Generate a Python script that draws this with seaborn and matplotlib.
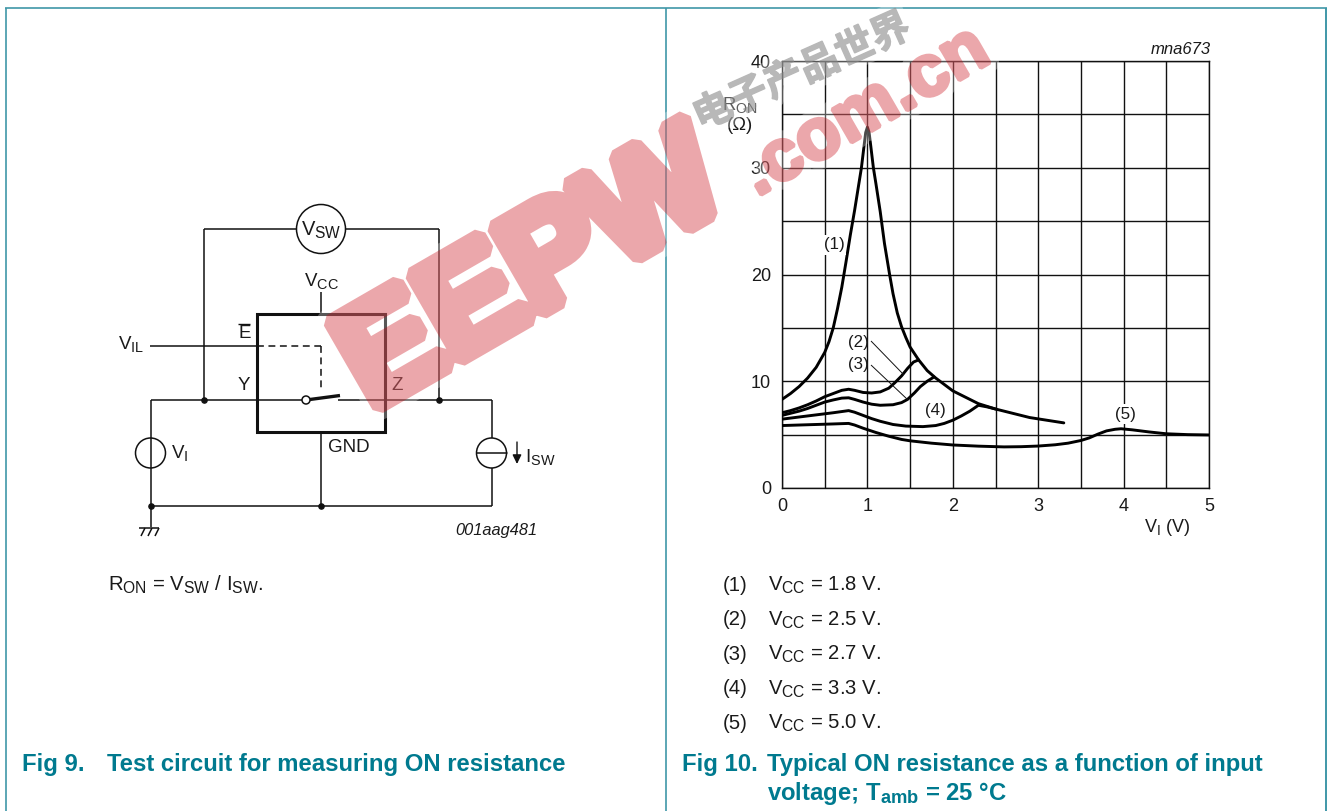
import pandas as pd
import matplotlib
matplotlib.use('Agg')
import matplotlib.pyplot as plt
import matplotlib.patheffects as pe
import matplotlib._mathtext as mathtext_core
import seaborn as sns

# Fig 10 curves
vi_1 = [0, 0.1, 0.2, 0.3, 0.4, 0.5, 0.55, 0.6, 0.65, 0.7, 0.75, 0.8, 0.85, 0.9, 0.93, 0.96, 0.98, 1.0, 1.02, 1.04, 1.07, 1.1, 1.15, 1.2, 1.26, 1.3, 1.35, 1.4, 1.45, 1.5, 1.55, 1.6, 1.7, 1.8, 1.9, 2.0, 2.1, 2.2, 2.3, 2.5, 2.7, 2.9, 3.1, 3.3]
ron_1 = [8.3, 8.85, 9.5, 10.3, 11.3, 12.7, 13.7, 15.0, 16.8, 18.8, 21.2, 23.7, 26.0, 28.5, 30.0, 32.0, 33.3, 33.8, 33.3, 32.0, 30.0, 28.5, 25.9, 22.9, 20.0, 18.2, 16.4, 15.1, 14.1, 13.2, 12.6, 12.0, 11.0, 10.3, 9.7, 9.1, 8.7, 8.3, 7.9, 7.4, 7.0, 6.6, 6.35, 6.1]
vi_2 = [0, 0.1, 0.2, 0.3, 0.4, 0.5, 0.6, 0.7, 0.78, 0.85, 0.95, 1.05, 1.15, 1.25, 1.32, 1.4, 1.47, 1.54, 1.6]
ron_2 = [7.05, 7.25, 7.5, 7.8, 8.15, 8.55, 8.85, 9.15, 9.25, 9.15, 8.95, 8.9, 9.0, 9.35, 9.85, 10.5, 11.2, 11.8, 12.0]
vi_3 = [0, 0.1, 0.2, 0.3, 0.4, 0.5, 0.6, 0.7, 0.78, 0.85, 0.95, 1.05, 1.15, 1.3, 1.4, 1.47, 1.55, 1.62, 1.7, 1.78]
ron_3 = [6.8, 7.0, 7.2, 7.45, 7.75, 8.05, 8.25, 8.42, 8.45, 8.3, 8.05, 7.85, 7.75, 7.8, 8.0, 8.3, 8.9, 9.5, 10.0, 10.4]
vi_4 = [0, 0.2, 0.4, 0.6, 0.78, 0.85, 0.95, 1.05, 1.15, 1.3, 1.45, 1.65, 1.8, 1.9, 2.0, 2.1, 2.2, 2.3, 2.4, 2.5]
ron_4 = [6.45, 6.65, 6.85, 7.05, 7.25, 7.1, 6.8, 6.5, 6.25, 5.95, 5.8, 5.75, 5.85, 6.05, 6.35, 6.75, 7.2, 7.75, 7.6, 7.4]
vi_5 = [0, 0.2, 0.4, 0.6, 0.78, 0.85, 0.95, 1.1, 1.25, 1.4, 1.5, 1.75, 2.0, 2.3, 2.6, 2.8, 3.0, 3.2, 3.35, 3.5, 3.6, 3.7, 3.8, 3.9, 3.97, 4.1, 4.3, 4.5, 4.75, 5.0]
ron_5 = [5.85, 5.9, 5.95, 6.0, 6.05, 5.9, 5.6, 5.2, 4.85, 4.55, 4.42, 4.2, 4.03, 3.92, 3.85, 3.87, 3.93, 4.05, 4.2, 4.45, 4.7, 5.05, 5.35, 5.5, 5.55, 5.45, 5.25, 5.08, 5.0, 4.97]

x_ticks = [0, 1, 2, 3, 4, 5]
y_ticks = [0, 10, 20, 30, 40]
x_grid = [0.5, 1.5, 2.5, 3.5, 4.5]
y_grid = [5, 15, 25, 35]
conditions = ['V$_{\\mathrm{CC}}$ = 1.8 V.', 'V$_{\\mathrm{CC}}$ = 2.5 V.', 'V$_{\\mathrm{CC}}$ = 2.7 V.',
              'V$_{\\mathrm{CC}}$ = 3.3 V.', 'V$_{\\mathrm{CC}}$ = 5.0 V.']
curve_names = ['(1)', '(2)', '(3)', '(4)', '(5)']

rows = []
for name, xs, ys in zip(curve_names, [vi_1, vi_2, vi_3, vi_4, vi_5], [ron_1, ron_2, ron_3, ron_4, ron_5]):
    rows.append(pd.DataFrame({'VI': xs, 'RON': ys, 'curve': name}))
curves = pd.concat(rows)

sns.set_theme(style='white')
plt.rcParams['font.family'] = ['Liberation Sans', 'DejaVu Sans']
plt.rcParams['mathtext.fontset'] = 'custom'
plt.rcParams['mathtext.rm'] = 'Liberation Sans'
plt.rcParams['mathtext.it'] = 'Liberation Sans:italic'
plt.rcParams['mathtext.bf'] = 'Liberation Sans:bold'
# the page's subscripts are a bit bigger than the mathtext default
mathtext_core.SHRINK_FACTOR = 0.77

W, H = 1332, 811
TEAL = '#007a8f'
FRAME = '#3f97a8'
TXT = '#1a1a1a'
fig = plt.figure(figsize=(W / 100, H / 100), dpi=100)

# chart axes, placed on the page
ax = fig.add_axes([782 / W, 1 - 488 / H, 427 / W, 427 / H], zorder=1)
sns.lineplot(data=curves, x='VI', y='RON', hue='curve', palette=['black'] * 5, sort=False,
             estimator=None, linewidth=2.1, legend=False, ax=ax, zorder=3)
for line in ax.get_lines():
    line.set_solid_joinstyle('round')
ax.set_xlim(0, 5)
ax.set_ylim(0, 40)
ax.set_xticks(x_ticks)
ax.set_yticks(y_ticks)
ax.set_xticks(x_grid, minor=True)
ax.set_yticks(y_grid, minor=True)
ax.grid(True, which='both', color='#111111', linewidth=1)
ax.tick_params(which='both', length=0, labelsize=13, labelcolor=TXT)
ax.tick_params(axis='x', pad=7)
ax.tick_params(axis='y', pad=8)
ax.set_xlabel('')
ax.set_ylabel('')
for s in ax.spines.values():
    s.set_color('#111111')
    s.set_linewidth(1)

# page overlay in pixel coordinates: frame, schematic, captions, watermark
pg = fig.add_axes([0, 0, 1, 1], zorder=2)
pg.set_xlim(0, W)
pg.set_ylim(H, 0)
pg.axis('off')


def wire(xs, ys, lw=1.1, **kw):
    pg.plot(xs, ys, color=kw.pop('color', '#111111'), linewidth=lw, solid_capstyle='butt', **kw)


def label(x, y, s, size=13.5, ha='left', va='center', **kw):
    pg.text(x, y, s, fontsize=size, ha=ha, va=va, color=kw.pop('color', TXT), **kw)


# frame
wire([5, 1327], [7.5, 7.5], color=FRAME, lw=1.2)
wire([666, 666], [8, 811], color=FRAME, lw=1.2)
wire([5.5, 5.5], [8, 811], color=FRAME, lw=1.2)
wire([1326, 1326], [8, 811], color=FRAME, lw=1.4)

# chart notes
label(1211, 50, 'mna673', size=12, ha='right', style='italic')
label(722, 105, 'R$_{\\mathrm{ON}}$', size=13.3)
label(740, 125, '(Ω)', size=13.3, ha='center')
label(1144, 527, 'V$_{\\mathrm{I}}$ (V)', size=13)
wb = dict(facecolor='white', edgecolor='none', pad=1.5)
label(834, 245, '(1)', size=12.2, ha='center', bbox=wb)
label(858, 342, '(2)', size=12.2, ha='center')
label(858, 364, '(3)', size=12.2, ha='center')
label(935, 410, '(4)', size=12.2, ha='center', bbox=wb)
label(1125, 414, '(5)', size=12.2, ha='center', bbox=wb)
wire([871, 904], [341, 375], lw=0.7)
wire([871, 908], [365, 400], lw=0.7)

# schematic wires
wire([204, 296], [229, 229])
wire([346, 438.5], [229, 229])
wire([204, 204], [229, 400])
wire([438.5, 438.5], [229, 400])
wire([150.5, 302], [400, 400])
wire([338, 491.5], [400, 400])
wire([306, 340], [400, 395.5], lw=2.4)
wire([150.5, 150.5], [400, 527])
wire([150.5, 491.5], [506, 506])
wire([491.5, 491.5], [400, 506])
wire([321, 321], [292, 314])
wire([321, 321], [432, 506])
wire([150, 257], [346, 346])
wire([257, 321], [346, 346], linestyle=(0, (4.5, 3)))
wire([321, 321], [346, 390], linestyle=(0, (4.5, 3)))
pg.add_patch(plt.Rectangle((257, 314), 128, 118, fill=False, edgecolor='#111111', linewidth=2.2, zorder=3))
pg.add_patch(plt.Circle((321, 229), 24.5, facecolor='white', edgecolor='#111111', linewidth=1.1, zorder=3))
pg.add_patch(plt.Circle((150.5, 453), 15, fill=False, edgecolor='#111111', linewidth=1.1, zorder=3))
pg.add_patch(plt.Circle((491.5, 453), 15, facecolor='white', edgecolor='#111111', linewidth=1.1, zorder=3))
pg.plot([476.5, 506.5], [453, 453], color='#111111', linewidth=1.1, zorder=4)
pg.add_patch(plt.Circle((306, 400), 4, facecolor='white', edgecolor='#111111', linewidth=1.1, zorder=4))
pg.scatter([204, 438.5, 150.5, 321], [400, 400, 506, 506], s=14, color='#111111', zorder=4)
# ground symbol
wire([139, 159], [528, 528])
for gx in [145, 152, 159]:
    wire([gx, gx - 4], [528, 536])
# current arrow
pg.annotate('', xy=(517, 464), xytext=(517, 442),
            arrowprops=dict(arrowstyle='-|>,head_width=0.22,head_length=0.45', color='#111111', lw=1, shrinkA=0, shrinkB=0))

label(321, 230, 'V$_{\\mathrm{SW}}$', size=14.5, ha='center', zorder=5)
label(304, 281, 'V$_{\\mathrm{CC}}$')
label(238, 333, 'E')
wire([238, 250], [324, 324], lw=1)
label(118, 344, 'V$_{\\mathrm{IL}}$')
label(238, 386, 'Y')
label(391, 386, 'Z')
label(328, 447, 'GND')
label(171, 453, 'V$_{\\mathrm{I}}$')
label(525, 457, 'I$_{\\mathrm{SW}}$')
label(537, 531, '001aag481', size=11.8, ha='right', style='italic')
label(108, 590.5, 'R$_{\\mathrm{ON}}$ = V$_{\\mathrm{SW}}$ / I$_{\\mathrm{SW}}$.', size=14.6, va='baseline')

# conditions list
for i, (name, cond) in enumerate(zip(curve_names, conditions)):
    label(723, 590.7 + 34.6 * i, name, size=14.6, va='baseline')
    label(768, 590.7 + 34.6 * i, cond, size=14.6, va='baseline')

# captions
label(22, 771, 'Fig 9.', size=17.2, va='baseline', color=TEAL, fontweight='bold')
label(107, 771, 'Test circuit for measuring ON resistance', size=17.2, va='baseline', color=TEAL, fontweight='bold')
label(682, 771, 'Fig 10.', size=17.2, va='baseline', color=TEAL, fontweight='bold')
label(767, 771, 'Typical ON resistance as a function of input', size=17.2, va='baseline', color=TEAL, fontweight='bold')
label(767, 800, 'voltage; T$_{\\mathbf{amb}}$ = 25 °C', size=17.2, va='baseline', color=TEAL, fontweight='bold')


# group alpha so that a stroked text is composited as one shape
def fade(amount):
    def apply(img, dpi):
        img = img.copy()
        img[..., 3] *= amount
        return img, 0, 0
    return apply


def stamp(x, y, s, size, angle, color, stroke, alpha, halo=20, **kw):
    pg.text(x, y, s, fontsize=size, color='white', rotation=angle, rotation_mode='anchor', va='baseline',
            path_effects=[pe.Stroke(linewidth=halo, foreground='white'), pe.Normal()],
            agg_filter=fade(0.3), zorder=6, **kw)
    pg.text(x, y, s, fontsize=size, color=color, rotation=angle, rotation_mode='anchor', va='baseline',
            path_effects=[pe.Stroke(linewidth=stroke, foreground=color, joinstyle='bevel'), pe.Normal()],
            agg_filter=fade(alpha), zorder=7, **kw)


# watermark
stamp(371, 411, 'EEPW', 102, 30, '#c8030e', 11, 0.35, fontweight='bold')
stamp(757, 197, '.com.cn', 52, 30, '#c8030e', 3, 0.35, halo=14, fontweight='bold')
stamp(700, 130, '电子产品世界', 28, 24, '#898989', 1, 0.6, halo=10, style='italic',
      family=['Noto Sans CJK SC', 'DejaVu Sans'], fontweight='bold')

fig.savefig('out.png', dpi=100)
